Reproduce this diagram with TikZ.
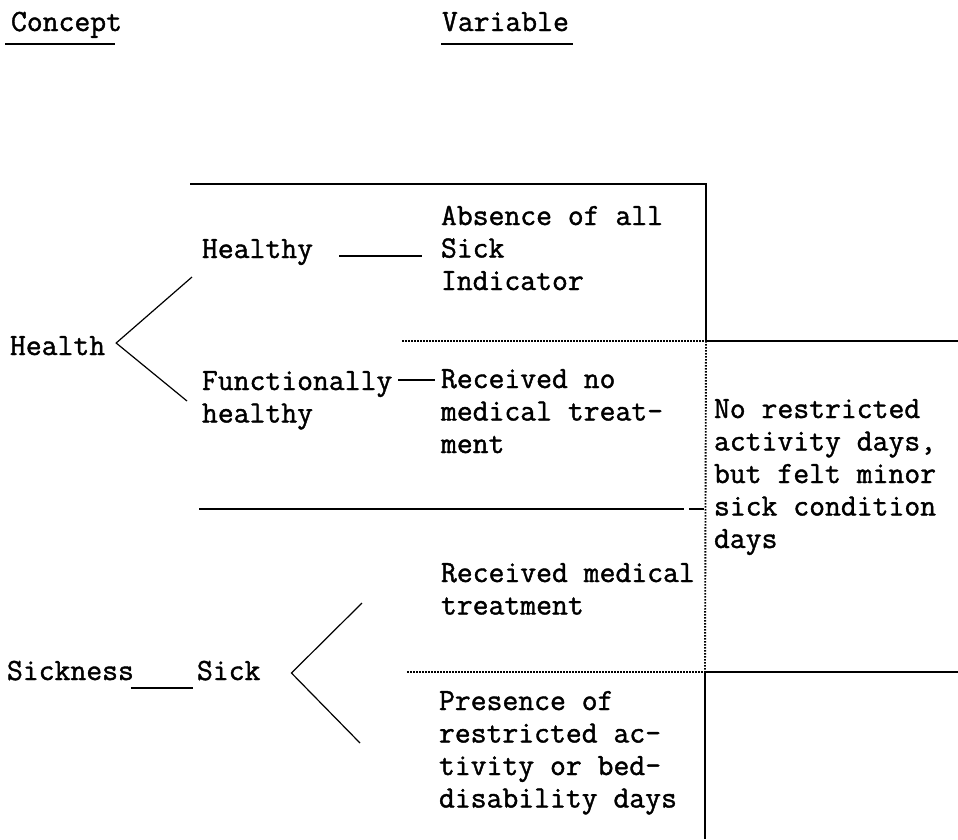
\documentclass[tikz,border=0pt]{standalone}
\usepackage{fontspec}
\newfontfamily\twfont[FakeBold=1.3]{Latin Modern Mono}
\usetikzlibrary{calc}
\newcommand\mytab[1]{\begin{tabular}[t]{@{}l@{}}#1\end{tabular}}
\begin{document}
\begin{tikzpicture}[x=1pt,y=-1pt,
  txt/.style={anchor=base west,inner sep=0pt,outer sep=0pt,font=\fontsize{30.8}{32.5}\selectfont\twfont},
  rule/.style={line width=1.8pt},
  dotline/.style={line width=1.9pt,dash pattern=on 1.6pt off 1.4pt},
  thinline/.style={line width=1.2pt}]
\useasboundingbox (0,0) rectangle (958,839);
% headings
\node[txt] (concept) at (11,31) {Concept};
\node[txt] (variable) at (442,31) {Variable};
\draw[rule] ($(concept.base west)+(-6,13)$) -- ($(concept.base east)+(-7,13)$);
\draw[rule] ($(variable.base west)+(-1,13)$) -- ($(variable.base east)+(4,13)$);
% texts
\node[txt] (health) at (10,355) {Health};
\node[txt] (healthy) at (202,258) {Healthy};
\node[txt] (func) at (202,390) {\mytab{Functionally\\healthy}};
\node[txt] (absence) at (441,225) {\mytab{Absence of all\\Sick\\Indicator}};
\node[txt] (recno) at (441,388) {\mytab{Received no\\medical treat-\\ment}};
\node[txt] (recmed) at (441,582) {\mytab{Received medical\\treatment}};
\node[txt] (presence) at (439,710) {\mytab{Presence of\\restricted ac-\\tivity or bed-\\disability days}};
\node[txt] (norestr) at (714,418) {\mytab{No restricted\\activity days,\\but felt minor\\sick condition\\days}};
\node[txt] (sickness) at (7,680) {Sickness};
\node[txt] (sick) at (197,680) {Sick};
% grid lines
\coordinate (topL) at (190,184);
\coordinate (topR) at (706,184);
\coordinate (midR) at (706,341);
\coordinate (edgeA) at (958,341);
\coordinate (dotA) at (402,341);
\coordinate (lowR) at (705,672);
\coordinate (dotB) at (407,672);
\coordinate (edgeB) at (958,672);
\coordinate (botR) at (705,839);
\coordinate (midL) at (199,509);
\coordinate (midM) at (684,509);
\coordinate (midN) at (689,509);
\coordinate (midE) at (704,509);
\draw[rule] (topL) -- (topR) -- (midR) -- (edgeA);
\draw[dotline] (dotA) -- (midR);
\draw[dotline] (midR) -- (lowR);
\draw[dotline] (dotB) -- (lowR);
\draw[rule] (edgeB) -- (lowR) -- (botR);
\draw[rule] (midL) -- (midM);
\draw[rule] (midN) -- (midE);
% connectors
\draw[rule] ($(healthy.base east)+(26,-2)$) -- ($(absence.west |- healthy.base)+(-19,-2)$);
\draw[rule] ($(func.base east)+(6,-10)$) -- ($(recno.base west)+(-6,-8)$);
\draw[thinline] ($(healthy.base west)+(-10,19)$) -- ($(health.base east)+(11,-12)$) -- ($(func.base west)+(-15,11)$);
\coordinate (sickUp) at (362,603);
\coordinate (sickDn) at (360,743);
\draw[thinline] (sickUp) -- ($(sick.base east)+(31,-7)$) -- (sickDn);
\draw[rule] ($(sickness.base east)+(-3,8)$) -- ($(sick.base west)+(-4,8)$);
\end{tikzpicture}
\end{document}
